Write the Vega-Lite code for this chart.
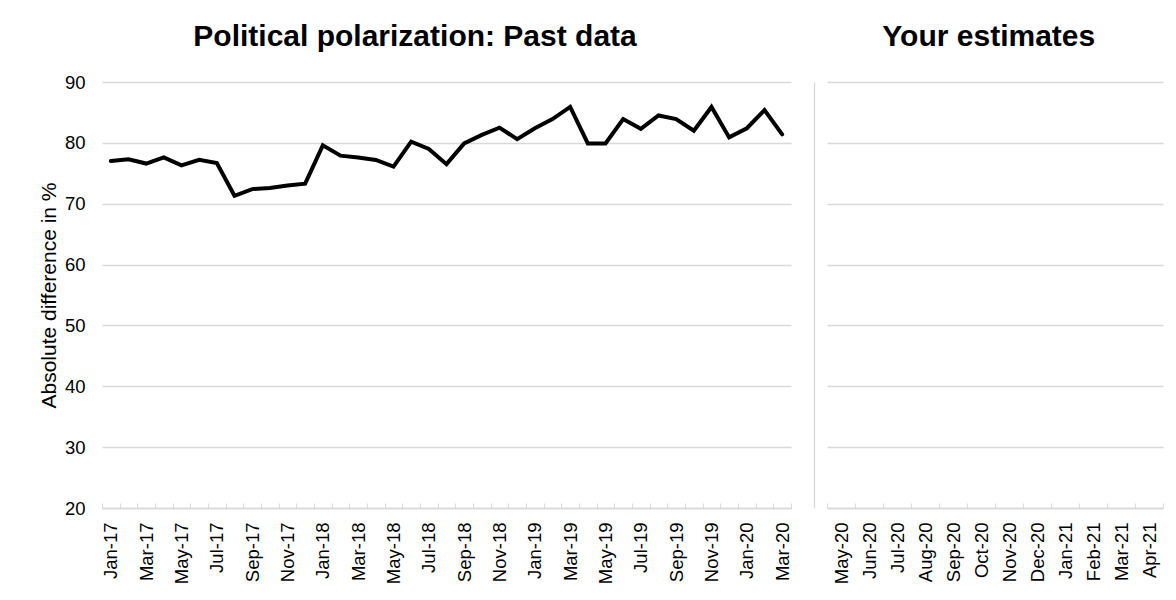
{
  "$schema": "https://vega.github.io/schema/vega-lite/v6.json",
  "background": "white",
  "padding": {"left": 38, "top": 22, "right": 5, "bottom": 5},
  "spacing": 22,
  "datasets": {
    "past": [
      {"month": "Jan-17", "value": 77.0}, {"month": "Feb-17", "value": 77.3}, {"month": "Mar-17", "value": 76.6},
      {"month": "Apr-17", "value": 77.6}, {"month": "May-17", "value": 76.3}, {"month": "Jun-17", "value": 77.2},
      {"month": "Jul-17", "value": 76.7}, {"month": "Aug-17", "value": 71.3}, {"month": "Sep-17", "value": 72.4},
      {"month": "Oct-17", "value": 72.6}, {"month": "Nov-17", "value": 73.0}, {"month": "Dec-17", "value": 73.3},
      {"month": "Jan-18", "value": 79.6}, {"month": "Feb-18", "value": 77.9}, {"month": "Mar-18", "value": 77.6},
      {"month": "Apr-18", "value": 77.2}, {"month": "May-18", "value": 76.1}, {"month": "Jun-18", "value": 80.2},
      {"month": "Jul-18", "value": 79.0}, {"month": "Aug-18", "value": 76.5}, {"month": "Sep-18", "value": 79.9},
      {"month": "Oct-18", "value": 81.3}, {"month": "Nov-18", "value": 82.5}, {"month": "Dec-18", "value": 80.6},
      {"month": "Jan-19", "value": 82.4}, {"month": "Feb-19", "value": 83.9}, {"month": "Mar-19", "value": 85.9},
      {"month": "Apr-19", "value": 79.9}, {"month": "May-19", "value": 79.9}, {"month": "Jun-19", "value": 83.9},
      {"month": "Jul-19", "value": 82.3}, {"month": "Aug-19", "value": 84.5}, {"month": "Sep-19", "value": 83.9},
      {"month": "Oct-19", "value": 82.0}, {"month": "Nov-19", "value": 85.9}, {"month": "Dec-19", "value": 80.9},
      {"month": "Jan-20", "value": 82.4}, {"month": "Feb-20", "value": 85.4}, {"month": "Mar-20", "value": 81.4}
    ],
    "future": [
      {"month": "May-20", "estimate": null}, {"month": "Jun-20", "estimate": null}, {"month": "Jul-20", "estimate": null},
      {"month": "Aug-20", "estimate": null}, {"month": "Sep-20", "estimate": null}, {"month": "Oct-20", "estimate": null},
      {"month": "Nov-20", "estimate": null}, {"month": "Dec-20", "estimate": null}, {"month": "Jan-21", "estimate": null},
      {"month": "Feb-21", "estimate": null}, {"month": "Mar-21", "estimate": null}, {"month": "Apr-21", "estimate": null}
    ]
  },
  "hconcat": [
    {
      "width": 689,
      "height": 426,
      "title": {"text": "Political polarization: Past data", "frame": "bounds", "anchor": "middle", "fontSize": 30, "fontWeight": "bold", "color": "#000000", "baseline": "alphabetic", "offset": -3},
      "data": {"name": "past"},
      "mark": {"type": "line", "color": "#000000", "strokeWidth": 4, "strokeCap": "round"},
      "encoding": {
        "x": {
          "field": "month", "type": "ordinal", "sort": null,
          "scale": {"paddingInner": 0, "paddingOuter": 0},
          "axis": {
            "title": null, "labelAngle": -90, "tickBand": "extent", "tickSize": -5, "labelPadding": 19, "grid": false,
            "labelExpr": "test(/^(Jan|Mar|May|Jul|Sep|Nov)/, datum.label) ? datum.label : ''"
          }
        },
        "y": {
          "field": "value", "type": "quantitative",
          "scale": {"domain": [20, 90], "nice": false, "zero": false},
          "axis": {"values": [20, 30, 40, 50, 60, 70, 80, 90], "domain": false, "ticks": false, "labelPadding": 17, "title": "Absolute difference in %", "titlePadding": 5, "titleFontSize": 21}
        }
      }
    },
    {
      "width": 336,
      "height": 426,
      "title": {"text": "Your estimates", "frame": "bounds", "anchor": "middle", "fontSize": 30, "fontWeight": "bold", "color": "#000000", "baseline": "alphabetic", "offset": 6},
      "data": {"name": "future"},
      "mark": {"type": "line", "color": "#000000", "strokeWidth": 4},
      "encoding": {
        "x": {
          "field": "month", "type": "ordinal", "sort": null,
          "scale": {"domain": ["May-20", "Jun-20", "Jul-20", "Aug-20", "Sep-20", "Oct-20", "Nov-20", "Dec-20", "Jan-21", "Feb-21", "Mar-21", "Apr-21"], "paddingInner": 0, "paddingOuter": 0},
          "axis": {"title": null, "labelAngle": -90, "tickBand": "extent", "tickSize": -5, "labelPadding": 19, "grid": false}
        },
        "y": {
          "field": "estimate", "type": "quantitative",
          "scale": {"domain": [20, 90], "nice": false, "zero": false},
          "axis": {"values": [20, 30, 40, 50, 60, 70, 80, 90], "labels": false, "ticks": false, "domain": true, "offset": 13, "title": null, "minExtent": 0}
        }
      }
    }
  ],
  "config": {
    "font": "Liberation Sans",
    "view": {"stroke": null},
    "axis": {
      "labelFont": "Liberation Sans", "labelFontSize": 18.5, "labelColor": "#000000",
      "titleFont": "Liberation Sans", "titleFontSize": 21, "titleFontWeight": "normal", "titleColor": "#000000",
      "gridColor": "#d9d9d9", "domainColor": "#d9d9d9", "tickColor": "#d9d9d9", "gridWidth": 1.3, "domainWidth": 1.3
    },
    "title": {"font": "Liberation Sans"}
  }
}
